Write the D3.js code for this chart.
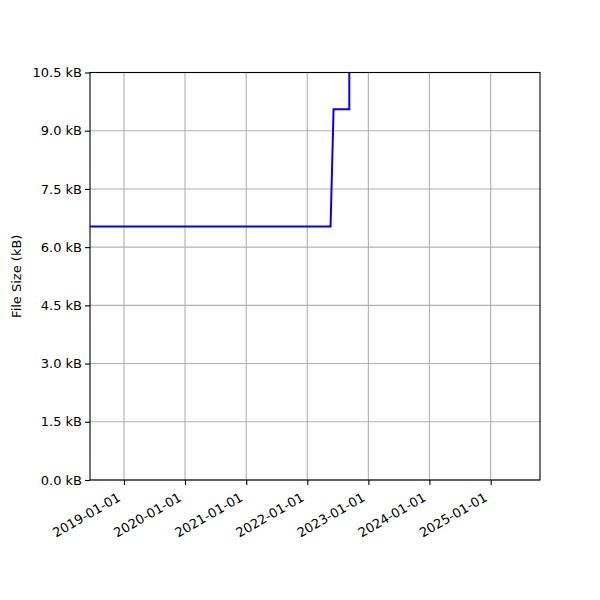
<!DOCTYPE html>
<html lang="en">
<head>
    <meta charset="UTF-8">
    <title>File Size</title>
    <style>
        body { margin: 0; padding: 0; background: #fff; }
        svg { display: block; }
        text { font-family: "DejaVu Sans", sans-serif; }
    </style>
</head>
<body>
    <svg width="600" height="600"></svg>
    <script src="https://d3js.org/d3.v7.min.js"></script>
    <script>
        // Data (file size in kB over time)
        const dates = ["2018-06-12", "2022-05-20", "2022-06-07", "2022-09-09", "2022-09-09"];
        const sizes = [6.53, 6.53, 9.55, 9.55, 13.5];
        const xDomain = ["2018-06-12", "2025-10-23"];
        const yTicks = [0, 1.5, 3.0, 4.5, 6.0, 7.5, 9.0, 10.5];
        const xTicks = ["2019-01-01", "2020-01-01", "2021-01-01", "2022-01-01", "2023-01-01", "2024-01-01", "2025-01-01"];

        const parse = d3.utcParse("%Y-%m-%d");
        const fmt = d3.utcFormat("%Y-%m-%d");
        const svg = d3.select("svg");
        const m = { left: 90, right: 540, top: 72.5, bottom: 480 };

        const x = d3.scaleUtc().domain(xDomain.map(parse)).range([m.left, m.right]);
        const y = d3.scaleLinear().domain([0, 10.5]).range([m.bottom, m.top]);

        // grid
        const grid = svg.append("g").attr("stroke", "#b0b0b0").attr("stroke-width", 1.1);
        grid.selectAll("line.v").data(xTicks.map(parse)).enter().append("line")
            .attr("x1", d => x(d)).attr("x2", d => x(d))
            .attr("y1", m.top).attr("y2", m.bottom);
        grid.selectAll("line.h").data(yTicks).enter().append("line")
            .attr("x1", m.left).attr("x2", m.right)
            .attr("y1", d => y(d)).attr("y2", d => y(d));

        // clip + line
        svg.append("clipPath").attr("id", "clip").append("rect")
            .attr("x", m.left).attr("y", m.top)
            .attr("width", m.right - m.left).attr("height", m.bottom - m.top);
        const pts = dates.map((d, i) => [parse(d), sizes[i]]);
        svg.append("path").datum(pts)
            .attr("clip-path", "url(#clip)")
            .attr("fill", "none").attr("stroke", "blue").attr("stroke-width", 2)
            .attr("d", d3.line().x(d => x(d[0])).y(d => y(d[1])));

        // axes
        const xAxis = svg.append("g").attr("transform", `translate(0,${m.bottom})`)
            .call(d3.axisBottom(x).tickValues(xTicks.map(parse)).tickFormat(fmt).tickSizeOuter(0).tickSize(5));
        xAxis.selectAll("text")
            .attr("font-size", 13).attr("fill", "#000")
            .attr("text-anchor", "end").attr("dy", null).attr("y", 0)
            .attr("transform", "translate(-3,20) rotate(-30)");

        const yAxis = svg.append("g").attr("transform", `translate(${m.left},0)`)
            .call(d3.axisLeft(y).tickValues(yTicks).tickFormat(d => d.toFixed(1) + " kB").tickSizeOuter(0).tickSize(5));
        yAxis.selectAll("text").attr("font-size", 13).attr("fill", "#000").attr("x", -8);

        svg.selectAll(".domain").remove();
        svg.selectAll(".tick line").attr("stroke", "#000").attr("stroke-width", 1.1);

        // frame
        svg.append("rect").attr("x", m.left).attr("y", m.top)
            .attr("width", m.right - m.left).attr("height", m.bottom - m.top)
            .attr("fill", "none").attr("stroke", "#000").attr("stroke-width", 1.1);

        svg.append("text")
            .attr("transform", `translate(21,${(m.top + m.bottom) / 2}) rotate(-90)`)
            .attr("text-anchor", "middle").attr("font-size", 13)
            .text("File Size (kB)");
    </script>
</body>
</html>
